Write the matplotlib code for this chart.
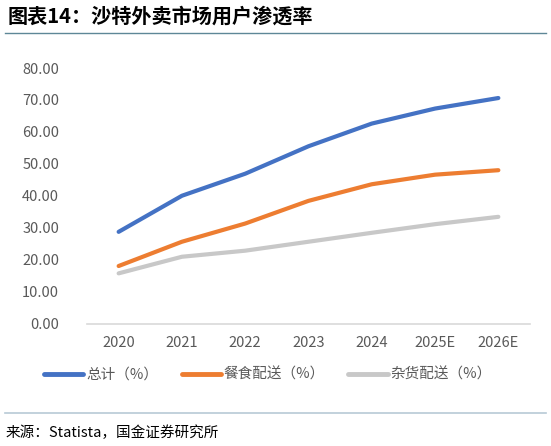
import matplotlib
matplotlib.use("Agg")
import matplotlib.pyplot as plt
from matplotlib.lines import Line2D

plt.rcParams['font.family'] = ['Noto Sans CJK SC', 'DejaVu Sans']

years = ['2020', '2021', '2022', '2023', '2024', '2025E', '2026E']
total = [28.7, 40.0, 46.9, 55.5, 62.6, 67.3, 70.6]
food = [18.0, 25.6, 31.3, 38.4, 43.6, 46.6, 48.0]
grocery = [15.7, 20.9, 22.8, 25.6, 28.4, 31.1, 33.4]
names = ['总计（%）', '餐食配送（%）', '杂货配送（%）']
colors = ['#4472C4', '#ED7D31', '#C8C8C8']

fig = plt.figure(figsize=(5.51, 4.46), dpi=100)
ax = fig.add_axes([87/551, 1 - 323.5/446, 443/551, 255.5/446])

x = range(len(years))
for vals, c in zip([total, food, grocery], colors):
    ax.plot(x, vals, color=c, lw=3, solid_capstyle='round')

ax.set_xlim(-0.5, len(years) - 0.5)
ax.set_ylim(0, 80)
ax.set_yticks(range(0, 81, 10))
ax.set_yticklabels(['%.2f' % v for v in range(0, 81, 10)])
ax.set_xticks(list(x))
ax.set_xticklabels(years)
ax.tick_params(length=0, labelsize=10.5, colors='#595959')
ax.tick_params(axis='y', pad=20)
ax.tick_params(axis='x', pad=9)
for s in ['top', 'right', 'left']:
    ax.spines[s].set_visible(False)
ax.spines['bottom'].set_color('#D9D9D9')
ax.spines['bottom'].set_linewidth(1.2)

handles = [Line2D([], [], color=c, lw=3.5, solid_capstyle='round') for c in colors]
fig.legend(handles, names, loc='center', bbox_to_anchor=(268/551, 1 - 375/446),
           ncol=3, frameon=False, fontsize=10.5, handlelength=2.7,
           handletextpad=0.2, columnspacing=1.6, labelcolor='#595959')

fig.text(8/551, 1 - 16/446, '图表14：沙特外卖市场用户渗透率', fontsize=14.5,
         fontweight='bold', va='center', ha='left')
fig.add_artist(Line2D([5/551, 546/551], [1 - 33/446, 1 - 33/446],
                      color='#5E8797', lw=1))
fig.add_artist(Line2D([5/551, 546/551], [1 - 413/446, 1 - 413/446],
                      color='#B7C9D6', lw=1.2))
fig.text(6/551, 1 - 433/446, '来源：Statista，国金证券研究所', fontsize=10.5,
         va='center', ha='left')

fig.savefig('out.png', dpi=100)
